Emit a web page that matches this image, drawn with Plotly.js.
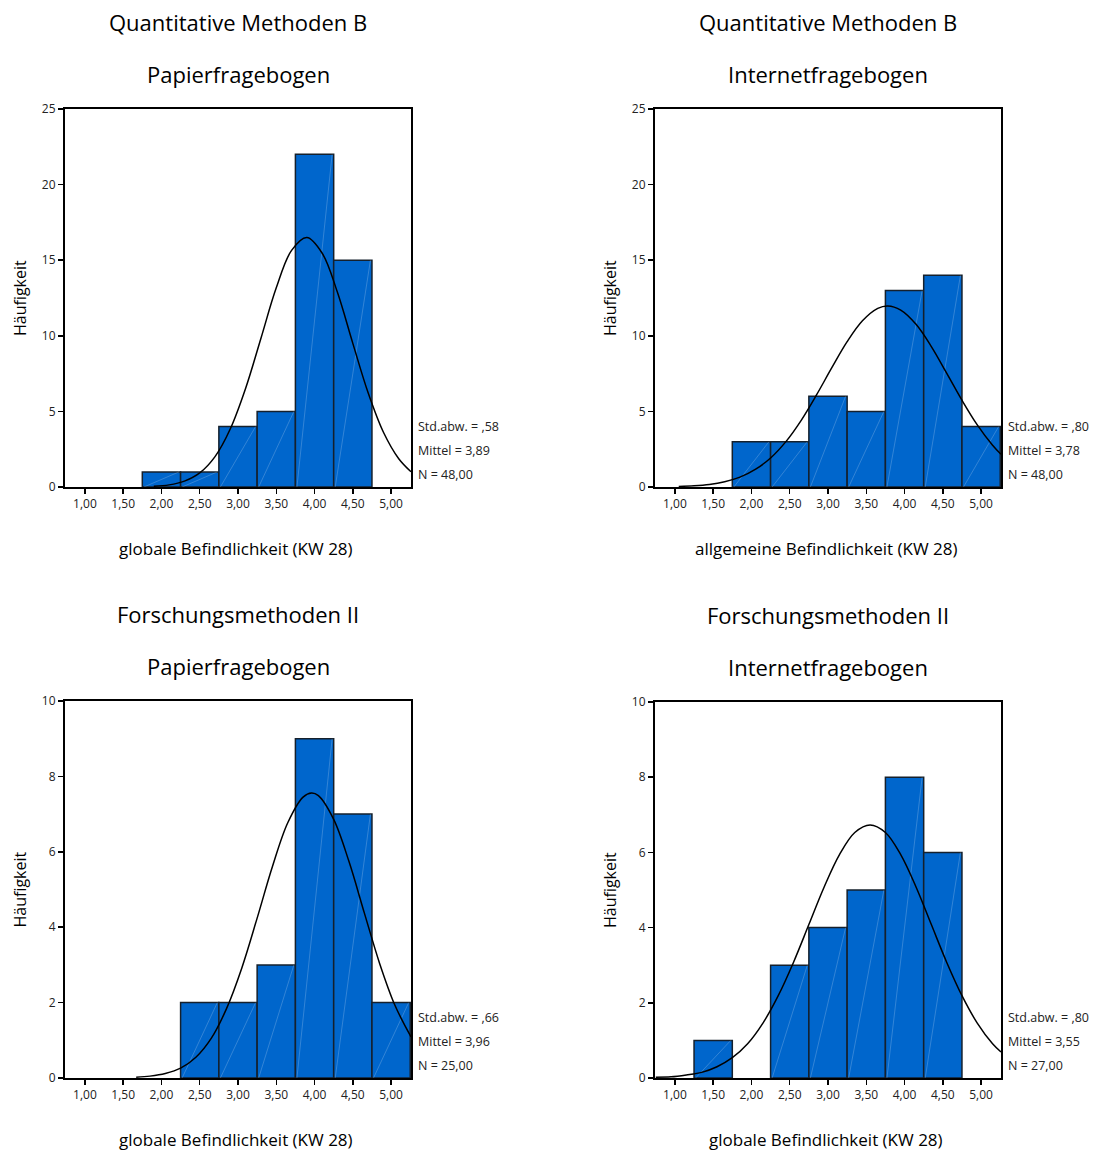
<!DOCTYPE html>
<html>
<head>
<meta charset="utf-8">
<script src="https://cdn.plot.ly/plotly-3.0.1.min.js"></script>
<style>html,body{margin:0;padding:0;background:#fff;}#chart{width:1094px;height:1151px;}</style>
</head>
<body>
<div id="chart"></div>
<script>
// ---- Data ----
const binCenters = [1.0, 1.5, 2.0, 2.5, 3.0, 3.5, 4.0, 4.5, 5.0];
const binWidth = 0.5;

const countsQMPapier   = [0, 0, 1, 1, 4, 5, 22, 15, 0];
const countsQMInternet = [0, 0, 3, 3, 6, 5, 13, 14, 4];
const countsFMPapier   = [0, 0, 0, 2, 2, 3, 9, 7, 2];
const countsFMInternet = [0, 1, 0, 3, 4, 5, 8, 6, 0];

// normal curves
const curveQMPapierX = [1.9, 2.1, 2.3, 2.5, 2.7, 2.9, 3.1, 3.3, 3.5, 3.7, 3.9, 4.1, 4.3, 4.5, 4.7, 4.9, 5.1, 5.26];
const curveQMPapierY = [0.05, 0.14, 0.39, 0.93, 2.01, 3.85, 6.53, 9.84, 13.17, 15.65, 16.5, 15.46, 12.86, 9.5, 6.23, 3.62, 1.87, 1.01];

const curveQMInternetX = [1.05, 1.25, 1.45, 1.65, 1.85, 2.05, 2.25, 2.45, 2.65, 2.85, 3.05, 3.25, 3.45, 3.65, 3.78, 3.95, 4.15, 4.35, 4.55, 4.75, 4.95, 5.15, 5.26];
const curveQMInternetY = [0.04, 0.08, 0.17, 0.35, 0.65, 1.16, 1.92, 3.0, 4.41, 6.09, 7.89, 9.61, 10.99, 11.81, 11.97, 11.7, 10.76, 9.29, 7.53, 5.74, 4.11, 2.76, 2.16];

const curveFMPapierX = [1.67, 1.85, 2.05, 2.25, 2.45, 2.65, 2.85, 3.05, 3.25, 3.45, 3.65, 3.85, 3.96, 4.05, 4.25, 4.45, 4.65, 4.85, 5.05, 5.26];
const curveFMPapierY = [0.02, 0.05, 0.12, 0.26, 0.55, 1.05, 1.84, 2.92, 4.24, 5.61, 6.77, 7.45, 7.56, 7.49, 6.86, 5.74, 4.38, 3.04, 1.93, 1.09];

const curveFMInternetX = [0.75, 0.95, 1.15, 1.35, 1.55, 1.75, 1.95, 2.15, 2.35, 2.55, 2.75, 2.95, 3.15, 3.35, 3.55, 3.75, 3.95, 4.15, 4.35, 4.55, 4.75, 4.95, 5.15, 5.26];
const curveFMInternetY = [0.02, 0.03, 0.08, 0.15, 0.3, 0.54, 0.91, 1.46, 2.19, 3.08, 4.08, 5.08, 5.94, 6.53, 6.73, 6.53, 5.94, 5.08, 4.08, 3.08, 2.19, 1.46, 0.91, 0.69];

const titlesLine1 = ["Quantitative Methoden B", "Quantitative Methoden B", "Forschungsmethoden II", "Forschungsmethoden II"];
const titlesLine2 = ["Papierfragebogen", "Internetfragebogen", "Papierfragebogen", "Internetfragebogen"];
const xTitles = ["globale Befindlichkeit (KW 28)", "allgemeine Befindlichkeit (KW 28)", "globale Befindlichkeit (KW 28)", "globale Befindlichkeit (KW 28)"];
const yTitle = "Häufigkeit";
const statsSD = [",58", ",80", ",66", ",80"];
const statsMean = ["3,89", "3,78", "3,96", "3,55"];
const statsN = ["48,00", "48,00", "25,00", "27,00"];
const yMax = [25, 25, 10, 10];
const yDtick = [5, 5, 2, 2];

// ---- Build chart ----
const FONT = "Open Sans, Noto Sans, DejaVu Sans, sans-serif";
const W = 1094, H = 1151;
const panels = [
  {counts: countsQMPapier, cx: curveQMPapierX, cy: curveQMPapierY, px: [65, 411], py: [109, 487], tx: 238, xt: 236},
  {counts: countsQMInternet, cx: curveQMInternetX, cy: curveQMInternetY, px: [655, 1001], py: [109, 487], tx: 828, xt: 826},
  {counts: countsFMPapier, cx: curveFMPapierX, cy: curveFMPapierY, px: [65, 411], py: [701, 1078], tx: 238, xt: 236},
  {counts: countsFMInternet, cx: curveFMInternetX, cy: curveFMInternetY, px: [655, 1001], py: [702, 1078], tx: 828, xt: 826}
];

const traces = [];
const layout = {
  width: W, height: H,
  margin: {l: 0, r: 0, t: 0, b: 0},
  paper_bgcolor: "#fff", plot_bgcolor: "#fff",
  showlegend: false,
  separators: ",.",
  font: {family: FONT, color: "#000"},
  annotations: []
};

function ann(x, y, text, size, opts) {
  return Object.assign({xref: "paper", yref: "paper", x: x / W, y: 1 - y / H, text: text, showarrow: false,
    font: {size: size, family: FONT, color: "#000"}, xanchor: "center", yanchor: "middle"}, opts || {});
}

panels.forEach((p, i) => {
  const n = i === 0 ? "" : String(i + 1);
  const xa = "x" + n, ya = "y" + n;
  const bx = [], by = [];
  p.counts.forEach((c, k) => { if (c > 0) { bx.push(binCenters[k]); by.push(c); } });
  traces.push({
    type: "bar", x: bx, y: by, width: binWidth, xaxis: xa, yaxis: ya,
    marker: {color: "#0066CC", line: {color: "#15202c", width: 1.5}},
    hoverinfo: "x+y"
  });
  // faint diagonal streaks inside bars
  const dx = [], dy = [];
  bx.forEach((c, k) => { dx.push(c - binWidth / 2 + 0.02, c + binWidth / 2 - 0.02, null); dy.push(0, by[k], null); });
  traces.push({
    type: "scatter", mode: "lines", x: dx, y: dy, xaxis: xa, yaxis: ya,
    line: {color: "rgba(255,255,255,0.25)", width: 0.8}, hoverinfo: "skip"
  });
  traces.push({
    type: "scatter", mode: "lines", x: p.cx, y: p.cy, xaxis: xa, yaxis: ya,
    line: {color: "#000", width: 1.5, shape: "spline"}, hoverinfo: "skip"
  });

  const axCommon = {
    showline: true, mirror: true, linecolor: "#000", linewidth: 2,
    ticks: "outside", ticklen: 5, tickwidth: 1.5, tickcolor: "#000",
    showgrid: false, zeroline: false,
    tickfont: {family: FONT, size: 12, color: "#222"}
  };
  layout["xaxis" + n] = Object.assign({}, axCommon, {
    domain: [p.px[0] / W, p.px[1] / W], anchor: ya,
    range: [0.74, 5.26], tickmode: "array", tickvals: binCenters,
    tickformat: ".2f"
  });
  layout["yaxis" + n] = Object.assign({}, axCommon, {
    domain: [1 - p.py[1] / H, 1 - p.py[0] / H], anchor: xa,
    range: [0, yMax[i]], dtick: yDtick[i], tick0: 0
  });

  const top = p.py[0], bot = p.py[1];
  layout.annotations.push(
    ann(p.tx, top - 87, titlesLine1[i], 22),
    ann(p.tx, top - 35, titlesLine2[i], 22),
    ann(p.xt, bot + 61, xTitles[i], 17),
    ann(p.px[0] - 45, (top + bot) / 2, yTitle, 16, {textangle: -90}),
    ann(p.px[1] + 5, bot - 61, "Std.abw. = " + statsSD[i], 12.5, {xanchor: "left", font: {size: 12.5, family: FONT, color: "#222"}}),
    ann(p.px[1] + 5, bot - 37, "Mittel = " + statsMean[i], 12.5, {xanchor: "left", font: {size: 12.5, family: FONT, color: "#222"}}),
    ann(p.px[1] + 5, bot - 13, "N = " + statsN[i], 12.5, {xanchor: "left", font: {size: 12.5, family: FONT, color: "#222"}})
  );
});

Plotly.newPlot("chart", traces, layout, {staticPlot: true, displayModeBar: false});
</script>
</body>
</html>
